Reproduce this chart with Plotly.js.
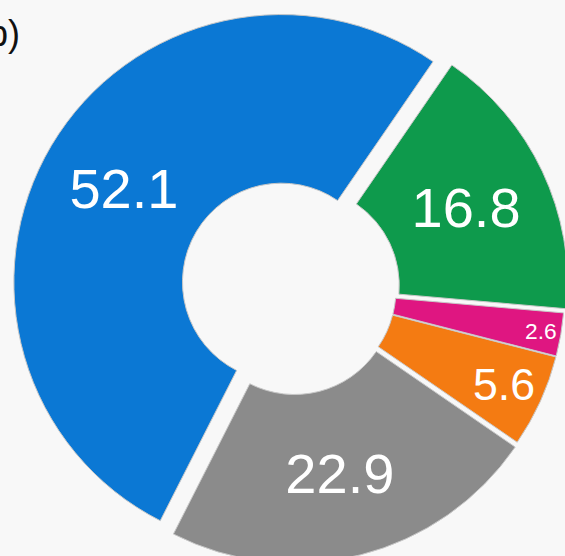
<!DOCTYPE html>
<html>
<head>
<meta charset="utf-8">
<script src="https://cdn.plot.ly/plotly-3.0.1.min.js"></script>
<style>
  html, body { margin: 0; padding: 0; width: 565px; height: 556px; overflow: hidden; background: #f8f8f8; }
  #chart { position: absolute; left: -7px; top: -11px; width: 600px; height: 600px; }
</style>
</head>
<body>
<div id="chart"></div>
<script>
const categories = ["Green", "Pink", "Orange", "Gray", "Blue"];
const values = [16.8, 2.6, 5.6, 22.9, 52.1];
const colors = ["#0e9a4c", "#df1681", "#f47b12", "#8b8b8b", "#0b78d4"];
const textSizes = [56, 40, 52, 56, 56];
const pulls = [0.03, 0.015, 0.015, 0.025, 0.05];
const panelLabel = "b)";

const trace = {
  type: "pie",
  labels: categories,
  values: values,
  text: values.map(v => v.toFixed(1)),
  textinfo: "text",
  textposition: "inside",
  insidetextorientation: "horizontal",
  sort: false,
  direction: "clockwise",
  rotation: 34.5,
  hole: 0.37,
  pull: pulls,
  marker: { colors: colors, line: { color: "#c8c8c8", width: 1 } },
  textfont: { family: "'Liberation Sans', Arial, sans-serif", size: textSizes, color: "#ffffff" },
  showlegend: false,
  hoverinfo: "none"
};

const layout = {
  width: 600, height: 600,
  margin: { l: 19, r: 19, t: 19, b: 19 },
  paper_bgcolor: "#f8f8f8",
  plot_bgcolor: "#f8f8f8",
  showlegend: false,
  annotations: [{
    text: panelLabel, xref: "paper", yref: "paper", x: 0.017, y: 0.955,
    xanchor: "right", yanchor: "middle", showarrow: false,
    font: { family: "'Liberation Sans', Arial, sans-serif", size: 36, color: "#111111" }
  }]
};

Plotly.newPlot("chart", [trace], layout, { displayModeBar: false, staticPlot: true });
</script>
</body>
</html>
